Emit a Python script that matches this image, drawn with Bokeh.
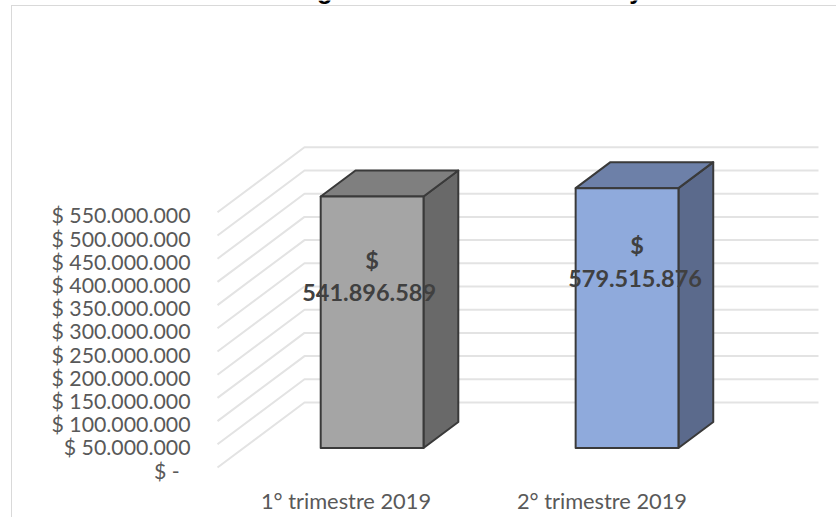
from bokeh.plotting import figure
from bokeh.models import FixedTicker, Range1d, LinearAxis, InlineStyleSheet
from bokeh.core.properties import value
from bokeh.embed import file_html
from bokeh.resources import INLINE

categories = ["1° trimestre 2019", "2° trimestre 2019"]
label_values = ["541.896.589", "579.515.876"]
bar_heights = [541896589, 560000000]
bar_positions = [0, 0.992]
category_ticks = [0, 0.996]
tick_values = [0, 50e6, 100e6, 150e6, 200e6, 250e6, 300e6, 350e6, 400e6, 450e6, 500e6, 550e6]
tick_labels = ["$ -\u00a0\u00a0", "$ 50.000.000", "$ 100.000.000", "$ 150.000.000", "$ 200.000.000",
               "$ 250.000.000", "$ 300.000.000", "$ 350.000.000", "$ 400.000.000", "$ 450.000.000",
               "$ 500.000.000", "$ 550.000.000"]
title_text = "Total de Ingresos totales enero a mayo"
face_colors = ["#a5a5a5", "#8faadc"]
top_colors = ["#7f7f7f", "#6d80a8"]
side_colors = ["#696969", "#5b6a8c"]

PX_X = 257.0            # pixels per category
PX_Y = 23.2 / 50e6      # pixels per money unit
DEPTH_X = 87 / PX_X     # full depth of the floor, in category units
DEPTH_Y = 65 / PX_Y     # full depth of the floor, in money units
BAR_W = 0.40
D0, D1 = 0.30, 0.70
Y0, Y1 = -(485 - 467) / PX_Y, 467 / PX_Y
LABEL_SHIFT = 3 / PX_Y


def proj(u, v, d):
    return u + d * DEPTH_X, v + d * DEPTH_Y


border_css = InlineStyleSheet(css=""":host::after{content:"";position:absolute;left:11px;top:5px;
width:830px;height:520px;border:1.5px solid #d9d9d9;pointer-events:none;}
:host{overflow:hidden;}""")

p = figure(width=836, height=517, output_backend="svg", toolbar_location=None,
           min_border_left=196, min_border_right=0, min_border_top=0, min_border_bottom=32,
           x_range=Range1d((196 - 345.5) / PX_X, (836 - 345.5) / PX_X),
           y_range=Range1d(Y0, Y1), y_axis_location=None,
           outline_line_color=None, background_fill_color="white", border_fill_color="white",
           stylesheets=[border_css])
p.grid.visible = False

p.extra_y_ranges = {"labels": Range1d(Y0 + LABEL_SHIFT, Y1 + LABEL_SHIFT)}
ya = LinearAxis(y_range_name="labels")
ya.ticker = FixedTicker(ticks=tick_values)
ya.major_label_overrides = {int(t): s for t, s in zip(tick_values, tick_labels)}
ya.axis_line_color = None
ya.major_tick_line_color = None
ya.minor_tick_line_color = None
ya.major_tick_out = 0
ya.major_tick_in = 0
ya.minor_tick_out = 0
ya.major_label_standoff = 6
ya.major_label_text_font = "Lato"
ya.major_label_text_font_size = "21.3px"
ya.major_label_text_color = "#595959"
p.add_layout(ya, "left")

xa = p.xaxis[0]
xa.ticker = FixedTicker(ticks=category_ticks)
xa.major_label_overrides = dict(zip(category_ticks, categories))
xa.axis_line_color = None
xa.major_tick_line_color = None
xa.minor_tick_line_color = None
xa.major_tick_out = 0
xa.major_tick_in = 0
xa.minor_tick_out = 0
xa.major_label_standoff = 1
xa.major_label_text_font = "Lato"
xa.major_label_text_font_size = "21.8px"
xa.major_label_text_color = "#595959"

# gridlines: side wall + back wall
left_u = -0.5
right_u = 1.5
gx, gy = [], []
for t in tick_values:
    x0, y0 = proj(left_u, t, 0)
    x1, y1 = proj(left_u, t, 1)
    x2, y2 = proj(right_u, t, 1)
    gx.append([x0, x1, x2])
    gy.append([y0, y1, y2])
p.multi_line(gx, gy, line_color="#e3e3e3", line_width=2)

# bars
for i, h in enumerate(bar_heights):
    u = bar_positions[i]
    ul, ur = u - BAR_W / 2, u + BAR_W / 2
    c = [proj(ul, 0, D0), proj(ur, 0, D0), proj(ur, h, D0), proj(ul, h, D0)]
    b = [proj(ul, 0, D1), proj(ur, 0, D1), proj(ur, h, D1), proj(ul, h, D1)]
    # side
    p.patch([c[1][0], b[1][0], b[2][0], c[2][0]], [c[1][1], b[1][1], b[2][1], c[2][1]],
            fill_color=side_colors[i], line_color="#3a3a3a", line_width=2, line_join="round")
    # top
    p.patch([c[3][0], c[2][0], b[2][0], b[3][0]], [c[3][1], c[2][1], b[2][1], b[3][1]],
            fill_color=top_colors[i], line_color="#3a3a3a", line_width=2, line_join="round")
    # front
    p.patch([q[0] for q in c], [q[1] for q in c],
            fill_color=face_colors[i], line_color="#3a3a3a", line_width=2, line_join="round")

# value labels
lab_x = [proj(bar_positions[i], 0, D0)[0] for i in range(2)]
lab_top = [proj(bar_positions[i], h, D0)[1] for i, h in enumerate(bar_heights)]
p.text(lab_x, lab_top, text=["$", "$"], x_offset=[0, 10], y_offset=[63, 57],
       text_align="center", text_baseline="middle",
       text_font=value("Lato"), text_font_style="bold", text_font_size="23.5px", text_color="#404040")
p.text(lab_x, lab_top, text=label_values, x_offset=[-3, 8], y_offset=[96, 90],
       text_align="center", text_baseline="middle",
       text_font=value("Lato"), text_font_style="bold", text_font_size="23.5px", text_color="#404040")

# title: only its descenders are inside the picture
p.text([(192 - 345.5) / PX_X], [(467 + 11) / PX_Y], text=[title_text], text_align="left",
       text_baseline="alphabetic", text_font=value("Liberation Sans"), text_font_style="bold",
       text_font_size="25.3px", text_color="#000000")

open("out.html", "w").write(file_html(p, INLINE))
